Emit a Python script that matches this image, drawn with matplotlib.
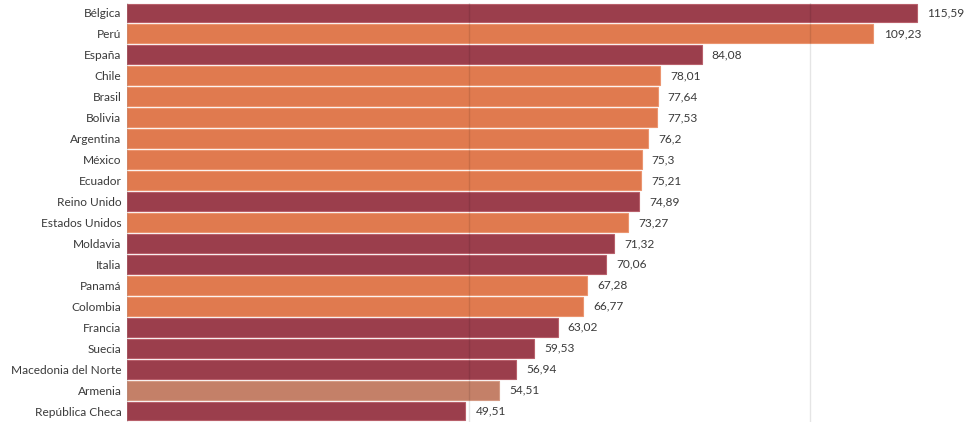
import matplotlib.pyplot as plt

paises = ["Bélgica", "Perú", "España", "Chile", "Brasil", "Bolivia", "Argentina",
          "México", "Ecuador", "Reino Unido", "Estados Unidos", "Moldavia", "Italia",
          "Panamá", "Colombia", "Francia", "Suecia", "Macedonia del Norte",
          "Armenia", "República Checa"]
valores = [115.59, 109.23, 84.08, 78.01, 77.64, 77.53, 76.2, 75.3, 75.21, 74.89,
           73.27, 71.32, 70.06, 67.28, 66.77, 63.02, 59.53, 56.94, 54.51, 49.51]
# grupo: e = europa, a = america, o = otro
grupos = ["e", "a", "e", "a", "a", "a", "a", "a", "a", "e",
          "a", "e", "e", "a", "a", "e", "e", "e", "o", "e"]

COLORES = {"e": "#9b3e4c", "a": "#e07a4f", "o": "#c48068"}
BORDES = {"e": "#b8606b", "a": "#eb9570", "o": "#d49a84"}

plt.rcParams["font.family"] = ["Lato", "DejaVu Sans"]

fig = plt.figure(figsize=(9.69, 4.42), dpi=100)
ax = fig.add_axes([127 / 969, 20.5 / 442, 835 / 969, 419 / 442])

y = list(range(len(paises)))
ax.barh(y, valores, height=0.9,
        color=[COLORES[g] for g in grupos],
        edgecolor=[BORDES[g] for g in grupos], linewidth=0.8, zorder=2)

for yi, v in zip(y, valores):
    txt = f"{v:.2f}".rstrip("0").rstrip(".").replace(".", ",")
    ax.text(v + 1.5, yi, txt, va="center", ha="left", fontsize=8.6, color="#3a3a3a")

ax.set_yticks(y)
ax.set_yticklabels(paises, fontsize=8.6, color="#3a3a3a")
ax.tick_params(axis="y", length=0, pad=4)
ax.set_ylim(len(paises) - 0.5, -0.5)
ax.set_xlim(0, 122.2)

ax.set_xticks([0, 50, 100])
ax.tick_params(axis="x", length=0, labelbottom=False)
ax.grid(axis="x", color="black", alpha=0.1, linewidth=1, zorder=3)
ax.set_axisbelow(False)
for s in ax.spines.values():
    s.set_visible(False)

fig.savefig("out.png", dpi=100)
